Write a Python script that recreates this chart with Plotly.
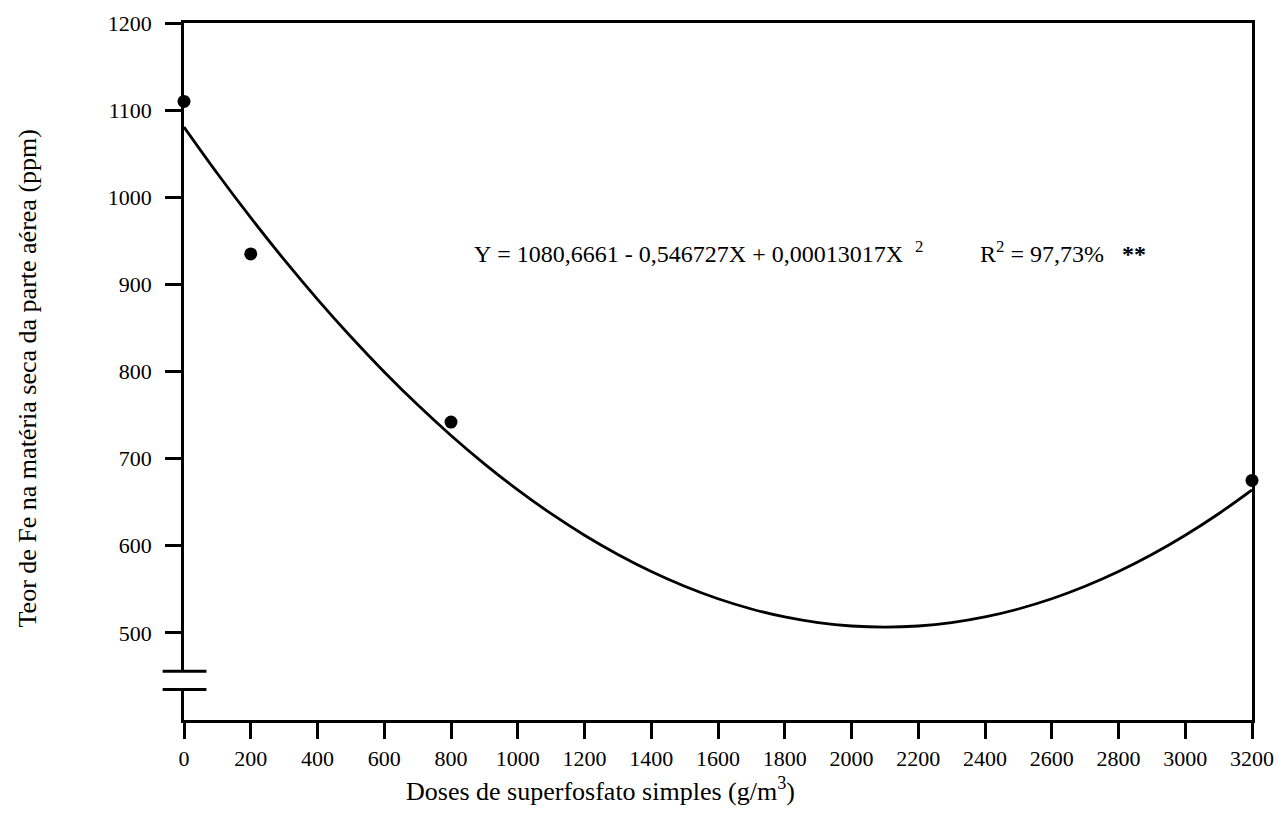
import plotly.graph_objects as go

# ---- data ----
doses = [0, 200, 800, 3200]
fe_content = [1110, 935, 742, 675]
coefs = [1080.6661, -0.546727, 0.00013017]  # regression Y = a + bX + cX^2
curve_x = [0, 100, 200, 300, 400, 500, 600, 700, 800, 900, 1000, 1100, 1200, 1300,
           1400, 1500, 1600, 1700, 1800, 1900, 2000, 2100, 2200, 2300, 2400, 2500,
           2600, 2700, 2800, 2900, 3000, 3100, 3200]
curve_y = [coefs[0] + coefs[1] * x + coefs[2] * x * x for x in curve_x]
x_ticks = [0, 200, 400, 600, 800, 1000, 1200, 1400, 1600, 1800, 2000, 2200, 2400,
           2600, 2800, 3000, 3200]
y_ticks = [500, 600, 700, 800, 900, 1000, 1100, 1200]
break_low, break_high = 435, 456

FONT = "Liberation Serif"
NB = "\u00a0"

fig = go.Figure()
fig.add_trace(go.Scatter(x=curve_x, y=curve_y, mode="lines", line_shape="spline",
                         line=dict(color="black", width=2.8), hoverinfo="skip",
                         showlegend=False, cliponaxis=False))
fig.add_trace(go.Scatter(x=doses, y=fe_content, mode="markers",
                         marker=dict(color="black", size=13), showlegend=False,
                         cliponaxis=False))

fig.update_layout(
    width=1270, height=809,
    margin=dict(l=176, r=26, t=15, b=97),
    paper_bgcolor="white", plot_bgcolor="white",
    font=dict(family=FONT, size=22, color="black"),
    xaxis=dict(range=[0, 3200], tickvals=x_ticks, ticks="outside", ticklen=16,
               tickwidth=2.5, tickcolor="black", showline=True, linecolor="black",
               linewidth=2.5, mirror=True, showgrid=False, zeroline=False,
               automargin=False,
               ticklabelstandoff=1, tickfont=dict(family=FONT, size=22)),
    yaxis=dict(range=[400, 1200], tickvals=y_ticks, ticks="outside", ticklen=16,
               tickwidth=2.5, tickcolor="black", showline=True, linecolor="black",
               linewidth=2.5, mirror=True, showgrid=False, zeroline=False,
               automargin=False,
               ticklabelstandoff=9, tickfont=dict(family=FONT, size=22)),
    shapes=[
        dict(type="rect", xref="paper", yref="y", x0=-0.012, x1=0.012,
             y0=break_low, y1=break_high, fillcolor="white", line=dict(width=0),
             layer="above"),
        dict(type="line", xref="paper", yref="y", x0=-0.02, x1=0.021,
             y0=break_high, y1=break_high, line=dict(color="black", width=3),
             layer="above"),
        dict(type="line", xref="paper", yref="y", x0=-0.02, x1=0.021,
             y0=break_low, y1=break_low, line=dict(color="black", width=3),
             layer="above"),
    ],
    annotations=[
        dict(text=f"Y{NB}={NB}1080,6661{NB}-{NB}0,546727X{NB}+{NB}0,00013017X{NB}{NB}<sup>2</sup>",
             xref="paper", yref="paper", x=0.270, y=0.672, xanchor="left",
             yanchor="middle", showarrow=False, font=dict(family=FONT, size=24)),
        dict(text=f"R<sup>2</sup>{NB}={NB}97,73%{NB}{NB}{NB}<b>**</b>",
             xref="paper", yref="paper", x=0.743, y=0.672, xanchor="left",
             yanchor="middle", showarrow=False, font=dict(family=FONT, size=24)),
        dict(text="Doses de superfosfato simples (g/m<sup>3</sup>)",
             xref="paper", yref="paper", x=0.39, y=-0.1, xanchor="center",
             yanchor="middle", showarrow=False, font=dict(family=FONT, size=26)),
        dict(text="Teor de Fe na matéria seca da parte aérea (ppm)",
             xref="paper", yref="paper", x=-0.147, y=0.49, xanchor="center",
             yanchor="middle", textangle=-90, showarrow=False,
             font=dict(family=FONT, size=26)),
    ],
)

fig.write_html("out.html")
